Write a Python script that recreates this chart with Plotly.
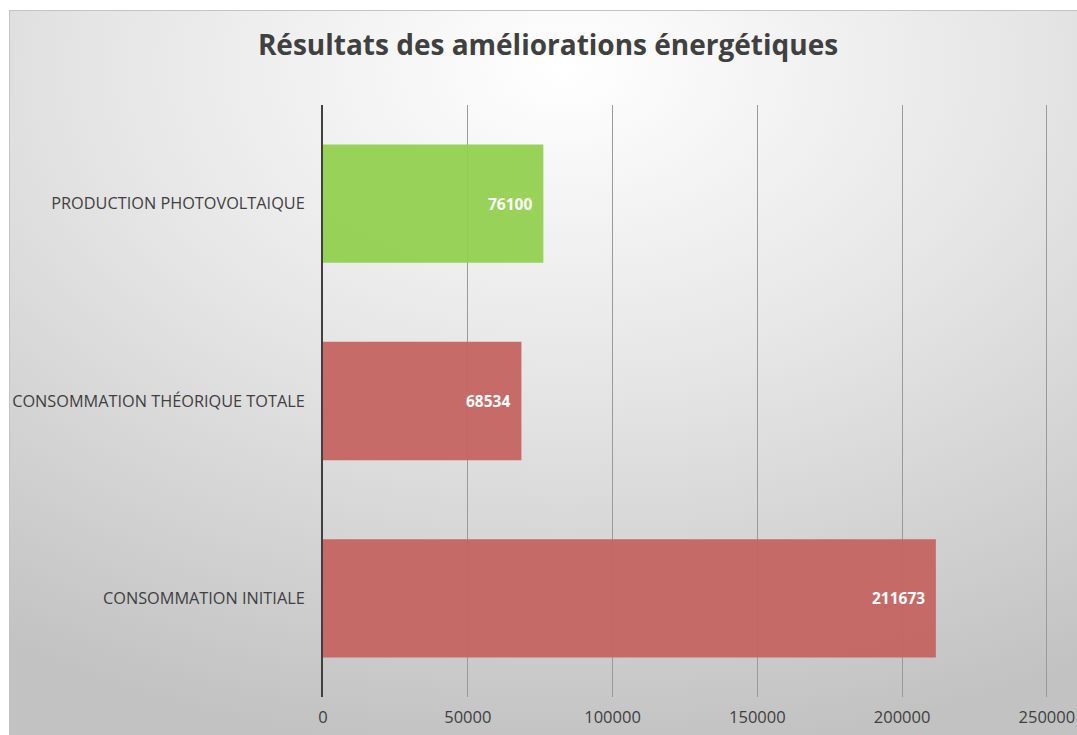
import base64
import plotly.graph_objects as go

categories = ["CONSOMMATION INITIALE", "CONSOMMATION THÉORIQUE TOTALE", "PRODUCTION PHOTOVOLTAIQUE"]
values = [211673, 68534, 76100]
bar_colors = ["#C56462", "#C56462", "#92D050"]
tick_vals = [0, 50000, 100000, 150000, 200000, 250000]
tick_text = ["0", "50000", "100000", "150000", "200000", "250000"]
title_text = "Résultats des améliorations énergétiques"
x_max = 250400

W, H = 1077, 735
ml, mr, mt, mb = 323, 29, 105, 38
pw, ph = W - ml - mr, H - mt - mb

svg = """<svg xmlns='http://www.w3.org/2000/svg' width='1077' height='735' viewBox='0 0 1077 735' preserveAspectRatio='none'>
<defs><radialGradient id='g' cx='0.52' cy='0.08' r='0.95' gradientUnits='objectBoundingBox'>
<stop offset='0' stop-color='#ffffff'/><stop offset='0.45' stop-color='#e6e6e6'/><stop offset='1' stop-color='#c2c2c2'/>
</radialGradient></defs>
<rect x='0' y='0' width='1077' height='735' fill='#ffffff'/>
<rect x='9' y='10' width='1068' height='725' fill='url(#g)'/>
<line x1='9' y1='10.5' x2='1077' y2='10.5' stroke='#c4c4c4' stroke-width='1'/>
<line x1='9.5' y1='10' x2='9.5' y2='735' stroke='#c4c4c4' stroke-width='1'/>
</svg>"""
src = "data:image/svg+xml;base64," + base64.b64encode(svg.encode()).decode()

fig = go.Figure()
fig.add_trace(go.Bar(
    y=categories, x=values, orientation="h",
    marker=dict(color=bar_colors, line=dict(width=0), opacity=0.95),
    hoverinfo="skip",
))

for c, v in zip(categories, values):
    fig.add_annotation(x=v, y=c, text="<b>%d</b>" % v, showarrow=False,
                       xanchor="right", yanchor="middle", xshift=-9,
                       font=dict(family="Open Sans", size=15.5, color="white"))

fig.update_layout(
    width=W, height=H,
    margin=dict(l=ml, r=mr, t=mt, b=mb, autoexpand=False),
    paper_bgcolor="white", plot_bgcolor="rgba(0,0,0,0)",
    bargap=0.4,
    showlegend=False,
    title=dict(text="<b>" + title_text + "</b>", x=548 / W, xanchor="center", y=1 - 45 / H, yanchor="middle",
               font=dict(family="Open Sans", size=28, color="#404040")),
    xaxis=dict(range=[0, x_max], tickvals=tick_vals, ticktext=tick_text, showgrid=True,
               gridcolor="#9a9a9a", gridwidth=1, zeroline=False, showline=False, automargin=False,
               tickfont=dict(family="Open Sans", size=16.5, color="#404040"), ticks="", ticklabelstandoff=8,
               ticklabeloverflow="allow", layer="above traces"),
    yaxis=dict(showline=True, linecolor="#404040", linewidth=2, ticks="", showgrid=False, automargin=False,
               tickfont=dict(family="Open Sans", size=16.3, color="#404040"), ticklabelstandoff=13),
    images=[dict(source=src, xref="paper", yref="paper",
                 x=-ml / pw, y=(H - mb) / ph, sizex=W / pw, sizey=H / ph,
                 xanchor="left", yanchor="top", sizing="stretch", layer="below")],
)

fig.write_html("out.html", config={"displayModeBar": False},
               post_script="document.body.style.margin='0';document.body.style.overflow='hidden';"
                           "document.documentElement.style.overflow='hidden';")
